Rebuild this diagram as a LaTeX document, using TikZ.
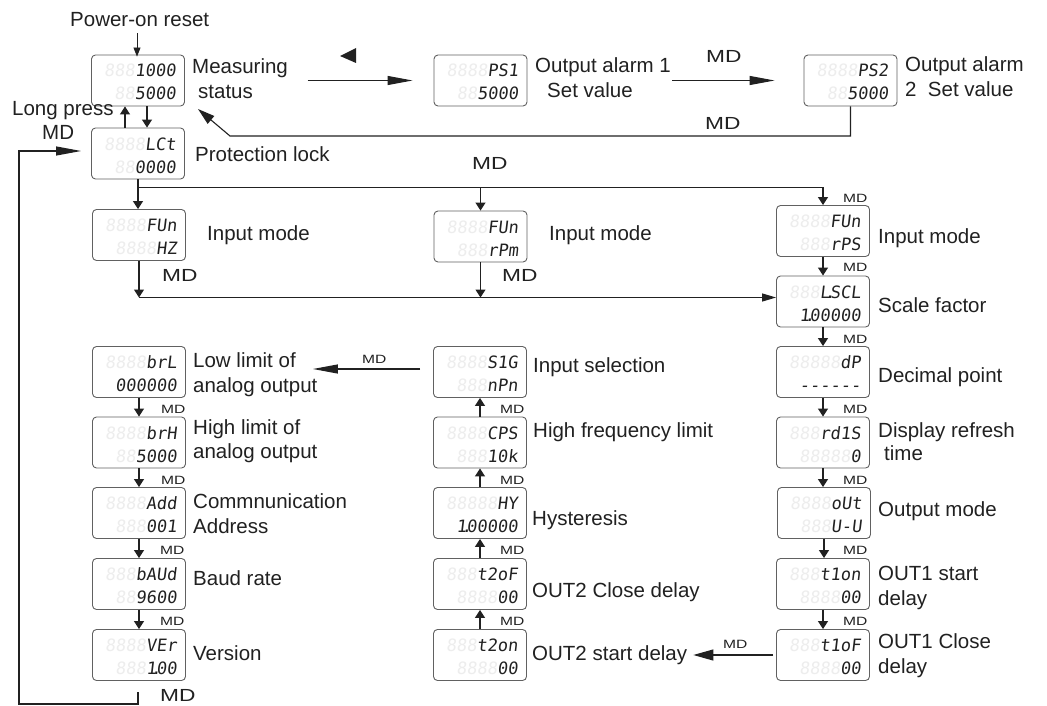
\documentclass[tikz,border=0pt]{standalone}
\usepackage{fontspec}
\setmainfont{Liberation Sans}
\newfontfamily\segfont[FakeSlant=0.12]{DejaVu Sans Mono}
\newfontfamily\mdfont[FakeStretch=1.3]{Liberation Sans}
\usetikzlibrary{arrows.meta,calc}
\definecolor{ghost}{gray}{0.93}
\definecolor{ink}{gray}{0.13}
\newcommand\sd{\makebox[0pt][c]{.}}
\tikzset{
  dbox/.style={draw=black!62, line width=0.9pt, rounded corners=4pt, minimum width=93pt, minimum height=51pt, inner sep=0pt},
  seg/.style={font=\segfont\fontsize{17}{17}\selectfont, text=ink, inner sep=0pt, anchor=base east},
  lbl/.style={font=\fontsize{20.5}{22}\selectfont, text=ink, inner sep=0pt, anchor=base west},
  mdL/.style={font=\mdfont\fontsize{17.5}{18}\selectfont, text=ink, inner sep=0pt, anchor=base west},
  mdS/.style={font=\mdfont\fontsize{12}{12}\selectfont, text=ink, inner sep=0pt, anchor=base west},
  ln/.style={line width=1.1pt, draw=ink},
  arrS/.style={ln, -{Triangle[length=8pt,width=10pt]}},
  arrP/.style={ln, line width=0.9pt, -{Triangle[length=9pt,width=7pt]}},
  arrL/.style={ln, -{Triangle[length=25pt,width=9pt]}},
  arrH/.style={ln, -{Triangle[length=14pt,width=8pt]}},
  arrM/.style={ln, -{Triangle[length=17pt,width=10pt]}},
  arrT/.style={ln, -{Triangle[length=20pt,width=11pt]}},
}
% name, x, y, ghost top, top, ghost bottom, bottom
\newcommand\dsp[7]{%
  \node[dbox] (#1) at (#2,#3) {};
  \node[seg] (#1t) at ($(#1.center)+(38,-3.5)$) {\textcolor{ghost}{#4}#5};
  \node[seg] (#1b) at ($(#1.center)+(38,19.5)$) {\textcolor{ghost}{#6}#7};
}
\begin{document}
\begin{tikzpicture}[x=1pt,y=-1pt]
\useasboundingbox (0,0) rectangle (1047,706);
\fill[white] (0,0) rectangle (1047,706);

% ---------- display boxes ----------
\dsp{meas}{138}{80.5}{888}{1000}{88}{5000}
\dsp{lct}{138}{153.5}{8888}{LCt}{88}{0000}
\dsp{ps1}{480.5}{80.5}{8888}{PS1}{88}{5000}
\dsp{ps2}{850.5}{80.5}{8888}{PS2}{88}{5000}
\dsp{fun1}{139}{235}{8888}{FUn}{8888}{HZ}
\dsp{fun2}{480.5}{236.5}{8888}{FUn}{888}{rPm}
\dsp{fun3}{823}{231}{8888}{FUn}{888}{rPS}
\dsp{lscl}{823}{301.5}{888}{L\sd SCL}{}{1\sd 00000}
\dsp{brl}{139}{372}{8888}{brL}{}{000000}
\dsp{sig}{480}{372}{8888}{S1G}{888}{nPn}
\dsp{dp}{823}{372}{88888}{dP}{}{------}
\dsp{brh}{139}{442.5}{8888}{brH}{88}{5000}
\dsp{cps}{480}{442.5}{8888}{CPS}{888}{10k}
\dsp{rd}{823}{442.5}{888}{rd1S}{88888}{0}
\dsp{add}{139}{513}{8888}{Add}{888}{001}
\dsp{hy}{480}{513}{88888}{HY}{}{1\sd 00000}
\dsp{out}{824}{513}{8888}{oUt}{888}{U-U}
\dsp{baud}{139}{584}{888}{bAUd}{88}{9600}
\dsp{t2of}{480}{584}{888}{t2oF}{8888}{00}
\dsp{t1on}{823}{584}{888}{t1on}{8888}{00}
\dsp{ver}{139}{655}{8888}{VEr}{888}{1\sd 00}
\dsp{t2on}{480}{655}{888}{t2on}{8888}{00}
\dsp{t1of}{823}{655}{888}{t1oF}{8888}{00}

% ---------- labels ----------
\node[lbl] (tpr) at (70,27) {Power-on reset};
\node[lbl] (tmeas1) at (192,74) {Measuring};
\node[lbl] (tmeas2) at (198,99) {status};
\node[lbl] (tlong) at (12,116) {Long press};
\node[lbl] (tlongmd) at (42,140) {MD};
\node[lbl] (tlock) at (195,162) {Protection lock};
\node[lbl] (tps1a) at (535,73) {Output alarm 1};
\node[lbl] (tps1b) at (547,98) {Set value};
\node[mdL] (mdtop) at (706,63) {MD};
\node[lbl] (tps2a) at (905,72) {Output alarm};
\node[lbl] (tps2b) at (905,97) {2~~Set value};
\node[mdL] (mdret) at (705,130) {MD};
\node[mdL] (mdbr) at (472,170) {MD};
\node[lbl] (tin1) at (207,240) {Input mode};
\node[mdL] (md1) at (162,281) {MD};
\node[lbl] (tin2) at (549,240) {Input mode};
\node[mdL] (md2) at (502,281) {MD};
\node[lbl] (tin3) at (878,243) {Input mode};
\node[mdS] (mds1) at (843,202) {MD};
\node[mdS] (mds2) at (843,271) {MD};
\node[lbl] (tscale) at (878,312) {Scale factor};
\node[mdS] (mds3) at (843,343) {MD};
\node[lbl] (tdp) at (878,382) {Decimal point};
\node[mdS] (mds4) at (843,413) {MD};
\node[lbl] (tdr1) at (878,437) {Display refresh};
\node[lbl] (tdr2) at (884,460) {time};
\node[mdS] (mds5) at (843,484) {MD};
\node[lbl] (tom) at (878,516) {Output mode};
\node[mdS] (mds6) at (843,554) {MD};
\node[lbl] (to1s1) at (878,580) {OUT1 start};
\node[lbl] (to1s2) at (878,605) {delay};
\node[mdS] (mds7) at (843,625) {MD};
\node[lbl] (to1c1) at (878,648) {OUT1 Close};
\node[lbl] (to1c2) at (878,673) {delay};
\node[mdS] (mdt) at (723,648) {MD};
\node[lbl] (to2s) at (532,660) {OUT2 start delay};
\node[mdS] (mdm1) at (500,625) {MD};
\node[lbl] (to2c) at (532,597) {OUT2 Close delay};
\node[mdS] (mdm2) at (500,554) {MD};
\node[lbl] (thy) at (532,525) {Hysteresis};
\node[mdS] (mdm3) at (500,484) {MD};
\node[lbl] (thf) at (533,437) {High frequency limit};
\node[mdS] (mdm4) at (500,413) {MD};
\node[lbl] (tsel) at (533,372) {Input selection};
\node[mdS] (mdsig) at (362,363) {MD};
\node[lbl] (tlow1) at (193,367) {Low limit of};
\node[lbl] (tlow2) at (193,392) {analog output};
\node[mdS] (mdl1) at (161,413) {MD};
\node[lbl] (thi1) at (193,434) {High limit of};
\node[lbl] (thi2) at (193,458) {analog output};
\node[mdS] (mdl2) at (161,484) {MD};
\node[lbl] (tadd1) at (193,508) {Commnunication};
\node[lbl] (tadd2) at (193,533) {Address};
\node[mdS] (mdl3) at (160,554) {MD};
\node[lbl] (tbaud) at (193,585) {Baud rate};
\node[mdS] (mdl4) at (160,625) {MD};
\node[lbl] (tver) at (193,660) {Version};
\node[mdL] (mdbot) at (160,701) {MD};

% ---------- connectors ----------
\draw[arrP] ($(tpr.south -| meas.north)+(-1,6)$) -- ($(meas.north)+(-1,2)$);
\draw[arrS] ($(lct.north)+(-13,0)$) -- ($(meas.south)+(-13,0)$);
\draw[arrS] ($(meas.south)+(9,0)$) -- ($(lct.north)+(9,0)$);

% loop back to protection lock
\coordinate (lb) at (138,692);
\coordinate (lp) at (19,151);
\draw[arrL] (lb) -- ++(0,12) -| (lp) -- ($(lct.west)+(-10,-2.5)$);

% top row
\draw[arrL] ($(ps1.west)+(-126,0)$) -- ($(ps1.west)+(-21,0)$);
\fill[ink] (340,56) -- (356,48) -- (356,63) -- cycle;
\draw[arrL] ($(ps1.east)+(145,0)$) -- ($(ps2.west)+(-29,0)$);
\coordinate (r1) at (230,136);
\coordinate (r2) at (198,109);
\draw[arrM] (ps2.south) |- (r1) -- (r2);

% branch below protection lock
\coordinate (j) at ($(lct.south)+(0,8)$);
\draw[arrS] (lct.south) -- (lct.south |- fun1.north);
\draw[arrS] (j) -| (fun3.north);
\draw[arrS] (j -| fun2.north) -- (fun2.north);

% into scale factor
\coordinate (h1) at ($(fun1.south |- lscl.west)+(0,-4)$);
\draw[arrS] (fun1.south) -- (h1);
\draw[arrS] (fun2.south) -- (h1 -| fun2.south);
\draw[arrH] (h1) -- ($(lscl.west)+(0,-4)$);

% right column
\draw[arrS] (fun3.south) -- (lscl.north);
\draw[arrS] (lscl.south) -- (dp.north);
\draw[arrS] (dp.south) -- (rd.north);
\draw[arrS] (rd.south) -- (out.north -| rd.south);
\draw[arrS] (out.south) -- (t1on.north -| out.south);
\draw[arrS] (t1on.south) -- (t1of.north);
\draw[arrT] ($(t1of.west)+(-3,0)$) -- ($(t1of.west -| to2s.east)+(6,0)$);

% middle column
\draw[arrS] (t2on.north) -- (t2of.south);
\draw[arrS] (t2of.north) -- (hy.south);
\draw[arrS] (hy.north) -- (cps.south);
\draw[arrS] (cps.north) -- (sig.south);
\draw[arrL] ($(sig.west)+(-13,-3)$) -- ($(sig.west -| tlow1.east)+(17,-3)$);

% left column
\draw[arrS] (brl.south) -- (brh.north);
\draw[arrS] (brh.south) -- (add.north);
\draw[arrS] (add.south) -- (baud.north);
\draw[arrS] (baud.south) -- (ver.north);
\end{tikzpicture}
\end{document}
